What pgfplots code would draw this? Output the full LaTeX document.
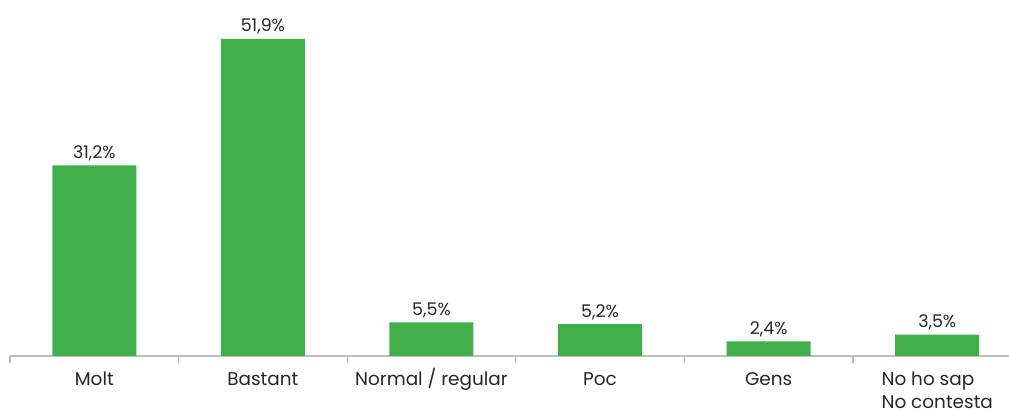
\documentclass[border=0pt]{standalone}
\usepackage{pgfplots}
\pgfplotsset{compat=1.18}
\usepackage{fontspec}
\setmainfont{Poppins}
\definecolor{barg}{HTML}{41AF49}
\definecolor{axg}{HTML}{BFBFBF}
\definecolor{txt}{HTML}{262626}
\newcommand{\tstrut}{\rule{0pt}{19bp}}
\begin{document}
\begin{tikzpicture}
\clip (0,0) rectangle (1009bp,409bp);
\path[use as bounding box] (0,0) rectangle (1009bp,409bp);
\begin{axis}[
  at={(10bp,53bp)}, anchor=south west,
  scale only axis, width=1011.6bp, height=366.6bp,
  xmin=-0.5, xmax=5.5, ymin=0, ymax=60,
  axis x line*=bottom, axis y line=none,
  axis line style={axg, line width=1.2bp},
  xtick={0,1,2,3,4,5},
  xticklabels={\tstrut Molt,\tstrut Bastant,\tstrut Normal / regular,\tstrut Poc,\tstrut Gens,{\tstrut No ho sap\\No contesta}},
  xticklabel style={font=\fontsize{18.5}{23}\selectfont, text=txt, align=left, anchor=north, inner sep=0pt, yshift=-10bp},
  major tick length=0pt,
  minor xtick={-0.5,0.5,1.5,2.5,3.5,4.5,5.5},
  minor tick length=7bp,
  tick align=outside,
  minor tick style={axg, line width=1.2bp},
  ytick=\empty,
  /pgf/number format/assume math mode=true,
  clip=false,
]
\addplot[ybar, bar width=84bp, fill=barg, draw=none,
  nodes near coords={\pgfmathprintnumber[use comma,fixed,fixed zerofill,precision=1,assume math mode=true]{\pgfplotspointmeta}\%},
  nodes near coords style={font=\fontsize{17.5}{19}\selectfont, text=txt, anchor=south, yshift=1bp},
  point meta=explicit symbolic] coordinates {(0,31.2)[31.2] (1,51.9)[51.9] (2,5.5)[5.5] (3,5.2)[5.2] (4,2.4)[2.4] (5,3.5)[3.5]};
\end{axis}
\end{tikzpicture}
\end{document}
